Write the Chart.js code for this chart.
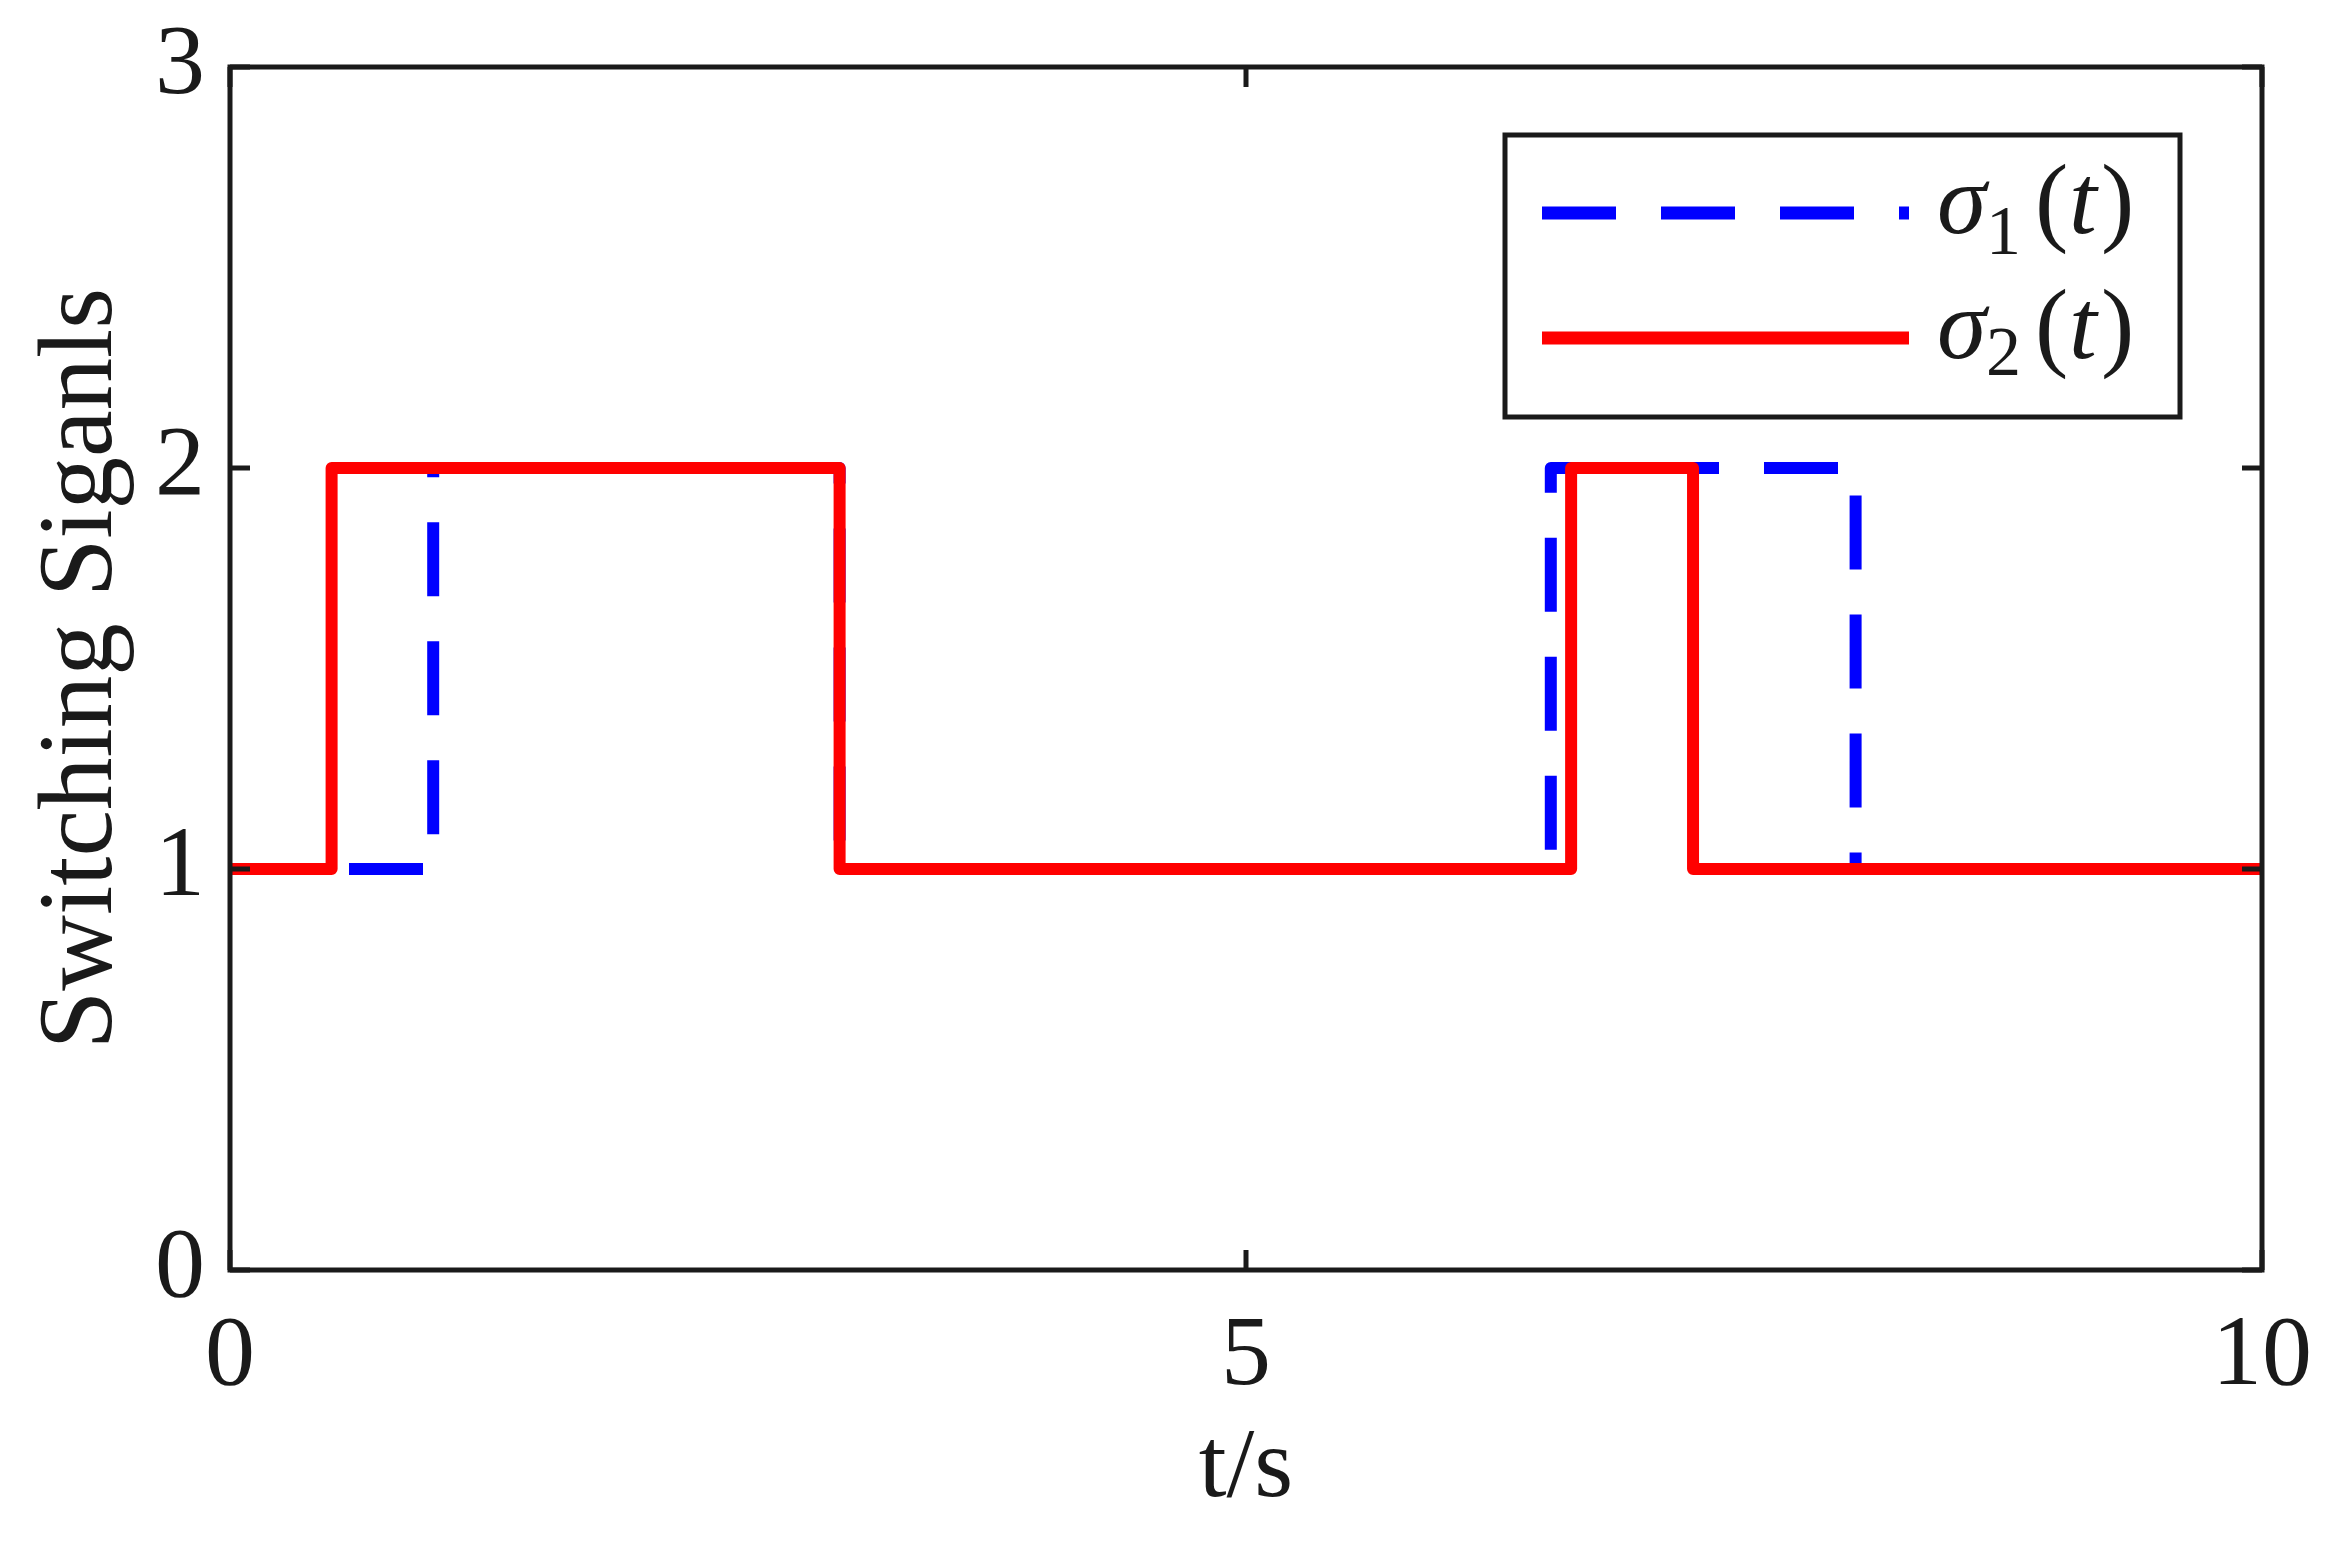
<!DOCTYPE html>
<html>
<head>
<meta charset="utf-8">
<script src="https://cdn.jsdelivr.net/npm/chart.js@4/dist/chart.umd.min.js"></script>
<style>
  html, body { margin: 0; padding: 0; background: #fff; }
  canvas { display: block; }
</style>
</head>
<body>
<canvas id="sig" width="2325" height="1546"></canvas>
<script>
// switching times and modes
const tSigma1 = [0, 1, 3, 6.5, 8, 10];
const sigma1 = [1, 2, 1, 2, 1, 1];
const tSigma2 = [0, 0.5, 3, 6.6, 7.2, 10];
const sigma2 = [1, 2, 1, 2, 1, 1];

const xTicks = [0, 5, 10];
const yTicks = [0, 1, 2, 3];

const ink = '#1a1a1a';
const serif = '"Liberation Serif", "DejaVu Serif", serif';
const dash = [74, 45];

function toPoints(ts, vs) {
  return ts.map((t, i) => ({ x: t, y: vs[i] }));
}

// box, inward ticks and the legend, drawn the way MATLAB does
const framePlugin = {
  id: 'frame',
  afterDatasetsDraw(chart) {
    const ctx = chart.ctx;
    const a = chart.chartArea;
    const x = chart.scales.x, y = chart.scales.y;
    ctx.save();
    ctx.strokeStyle = ink;
    ctx.lineWidth = 5;
    ctx.lineCap = 'butt';
    let tl = 20;
    ctx.beginPath();
    xTicks.forEach(v => {
      let px = x.getPixelForValue(v);
      ctx.moveTo(px, a.bottom); ctx.lineTo(px, a.bottom - tl);
      ctx.moveTo(px, a.top); ctx.lineTo(px, a.top + tl);
    });
    yTicks.forEach(v => {
      let py = y.getPixelForValue(v);
      ctx.moveTo(a.left, py); ctx.lineTo(a.left + tl, py);
      ctx.moveTo(a.right, py); ctx.lineTo(a.right - tl, py);
    });
    ctx.stroke();
    ctx.strokeRect(a.left, a.top, a.right - a.left, a.bottom - a.top);

    // legend
    let bx = a.right - 757, by = a.top + 68;
    let bw = 675, bh = 282;
    ctx.fillStyle = '#fff';
    ctx.fillRect(bx, by, bw, bh);
    ctx.strokeRect(bx, by, bw, bh);

    const rows = [
      { color: '#0000ff', dash: dash, sub: '1', dy: 78, subDrop: 21 },
      { color: '#ff0000', dash: [], sub: '2', dy: 203, subDrop: 17 }
    ];
    rows.forEach(r => {
      let ly = by + r.dy;
      ctx.beginPath();
      ctx.setLineDash(r.dash);
      ctx.strokeStyle = r.color;
      ctx.lineWidth = 13;
      ctx.moveTo(bx + 37, ly);
      ctx.lineTo(bx + 404, ly);
      ctx.stroke();
      ctx.setLineDash([]);

      let base = ly + 20;
      ctx.fillStyle = ink;
      ctx.textBaseline = 'alphabetic';
      ctx.textAlign = 'left';
      ctx.font = 'italic 100px ' + serif;
      ctx.fillText('σ', bx + 432, base);
      ctx.font = '70px ' + serif;
      ctx.fillText(r.sub, bx + 481, base + r.subDrop);
      ctx.font = '100px ' + serif;
      ctx.fillText('(', bx + 530, base);
      ctx.font = 'italic 100px ' + serif;
      ctx.fillText('t', bx + 564, base);
      ctx.font = '100px ' + serif;
      ctx.fillText(')', bx + 596, base);
    });
    ctx.restore();
  }
};

const ctx = document.getElementById('sig');
const chart = new Chart(ctx, {
  type: 'scatter',
  data: {
    datasets: [{
      label: 'σ1(t)',
      data: toPoints(tSigma1, sigma1),
      showLine: true,
      stepped: 'before',
      borderColor: '#0000ff',
      borderWidth: 12,
      borderDash: dash,
      borderJoinStyle: 'round',
      pointRadius: 0,
      order: 2
    }, {
      label: 'σ2(t)',
      data: toPoints(tSigma2, sigma2),
      showLine: true,
      stepped: 'before',
      borderColor: '#ff0000',
      borderWidth: 12,
      borderJoinStyle: 'round',
      pointRadius: 0,
      order: 1
    }]
  },
  options: {
    responsive: false,
    animation: false,
    devicePixelRatio: 1,
    layout: { padding: { left: 0, top: 67, right: 63, bottom: 0 } },
    plugins: {
      legend: { display: false },
      tooltip: { enabled: false }
    },
    scales: {
      x: {
        type: 'linear',
        min: 0,
        max: 10,
        grid: { display: false, drawTicks: false },
        border: { display: false },
        afterBuildTicks: s => { s.ticks = xTicks.map(v => ({ value: v })); },
        afterFit: s => { s.height = 276; s.paddingLeft = 0; s.paddingRight = 0; },
        ticks: {
          color: ink,
          font: { family: serif, size: 100 },
          padding: 28,
          maxRotation: 0
        },
        title: {
          display: true,
          text: 't/s',
          color: ink,
          font: { family: serif, size: 100 },
          padding: { top: 0, bottom: 16 }
        }
      },
      y: {
        min: 0,
        max: 3,
        grid: { display: false, drawTicks: false },
        border: { display: false },
        afterBuildTicks: s => { s.ticks = yTicks.map(v => ({ value: v })); },
        afterFit: s => { s.width = 230; s.paddingTop = 0; s.paddingBottom = 0; },
        ticks: {
          color: ink,
          font: { family: serif, size: 100 },
          padding: 25
        },
        title: {
          display: true,
          text: 'Switching Siganls',
          color: ink,
          font: { family: serif, size: 105 },
          padding: { top: 20, bottom: 0 }
        }
      }
    }
  },
  plugins: [framePlugin]
});
</script>
</body>
</html>
